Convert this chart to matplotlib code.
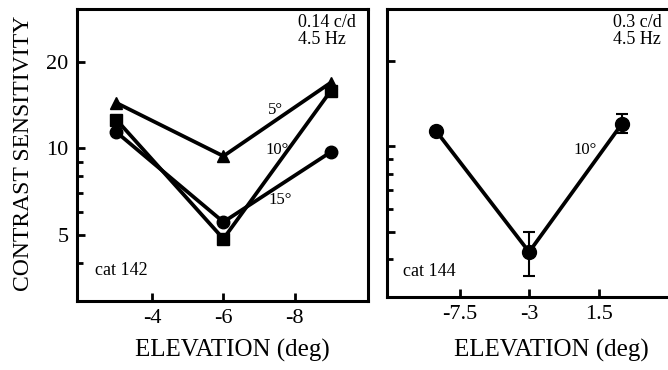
import numpy as np
import matplotlib
matplotlib.use("Agg")
import matplotlib.pyplot as plt
from matplotlib.ticker import FixedLocator, NullFormatter, FixedFormatter

plt.rcParams['font.family'] = ['Liberation Serif', 'DejaVu Serif']

# left panel: cat 142, 0.14 c/d
elev_142 = [-3, -6, -9]
sens_5deg = [14.4, 9.4, 16.9]
sens_10deg = [12.6, 4.85, 15.8]
sens_15deg = [11.4, 5.55, 9.7]

# right panel: cat 144, 0.3 c/d
elev_144 = [-9, -3, 3]
sens_144 = [11.3, 4.25, 12.0]
err_lo_144 = [0, 0.75, 0.8]
err_hi_144 = [0, 0.75, 1.0]

major_y = [5, 10, 20]
minor_y = [4, 6, 7, 8, 9]
ticks_142 = [-4, -6, -8]
ticks_144 = [-7.5, -3, 1.5]

fig = plt.figure(figsize=(6.68, 3.70), dpi=100)
ax1 = fig.add_axes([77/668, 69/370, 291/668, 292/370])
ax2 = fig.add_axes([387/668, 73/370, 285/668, 288/370])

lw = 2.7
ax1.plot(elev_142, sens_5deg, color='black', lw=lw, marker='^', ms=9)
ax1.plot(elev_142, sens_10deg, color='black', lw=lw, marker='s', ms=8.5)
ax1.plot(elev_142, sens_15deg, color='black', lw=lw, marker='o', ms=9)

ax2.errorbar(elev_144, sens_144, yerr=[err_lo_144, err_hi_144], color='black',
             lw=lw, marker='o', ms=10, capsize=4, elinewidth=1.5, capthick=1.5)

for ax in (ax1, ax2):
    ax.set_yscale('log')
    ax.set_ylim(2.95, 30.5)
    ax.yaxis.set_major_locator(FixedLocator(major_y))
    ax.yaxis.set_minor_locator(FixedLocator(minor_y))
    ax.yaxis.set_minor_formatter(NullFormatter())
    ax.tick_params(which='both', direction='in', width=2.0, labelsize=16, pad=6)
    ax.tick_params(which='major', length=6)
    ax.tick_params(which='minor', length=4)
    ax.tick_params(axis='x', which='minor', bottom=False)
    for s in ax.spines.values():
        s.set_linewidth(2.2)

ax1.yaxis.set_major_formatter(FixedFormatter([str(v) for v in major_y]))
ax2.yaxis.set_major_formatter(NullFormatter())

# elevation axis runs from -2 to -10 in the left panel
ax1.set_xlim(-1.9, -10.05)
ax1.set_xticks(ticks_142)
ax1.set_xticklabels([str(t) for t in ticks_142])

ax2.set_xlim(-12.2, 6.25)
ax2.set_xticks(ticks_144)
ax2.set_xticklabels([str(t) for t in ticks_144])

ax1.text(0.759, 0.982, "0.14 c/d\n4.5 Hz", transform=ax1.transAxes, fontsize=13,
         va='top', ha='left', linespacing=0.95)
ax2.text(0.793, 0.982, "0.3 c/d\n4.5 Hz", transform=ax2.transAxes, fontsize=13,
         va='top', ha='left', linespacing=0.95)
ax1.text(0.062, 0.106, "cat 142", transform=ax1.transAxes, fontsize=13, va='center')
ax2.text(0.056, 0.087, "cat 144", transform=ax2.transAxes, fontsize=13, va='center')

ax1.text(-7.47, 13.6, "5°", fontsize=12, ha='center', va='center')
ax1.text(-7.5, 9.9, "10°", fontsize=12, ha='center', va='center')
ax1.text(-7.58, 6.6, "15°", fontsize=12, ha='center', va='center')
ax2.text(0.6, 9.7, "10°", fontsize=12, ha='center', va='center')

fig.text(24/668, 1 - 153/370, "CONTRAST SENSITIVITY", rotation=90, fontsize=17,
         ha='center', va='center')
fig.text(232/668, 1 - 350/370, "ELEVATION (deg)", fontsize=18, ha='center', va='center')
fig.text(551/668, 1 - 350/370, "ELEVATION (deg)", fontsize=18, ha='center', va='center')

fig.savefig("out.png", dpi=100)
